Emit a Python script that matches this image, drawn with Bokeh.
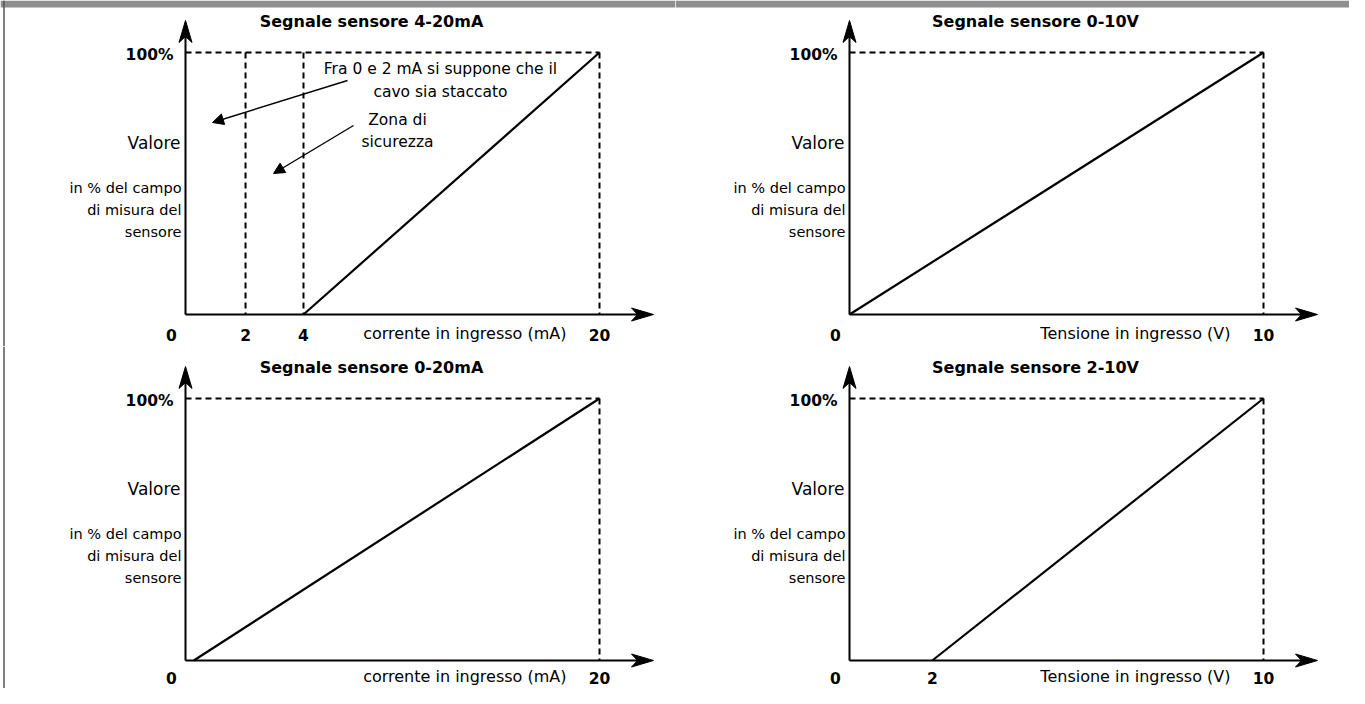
import numpy as np
from bokeh.plotting import figure
from bokeh.layouts import column, row
from bokeh.models import Range1d, Span, BoxAnnotation, Arrow, NormalHead
from bokeh.core.properties import value
from bokeh.embed import file_html
from bokeh.resources import INLINE

FONT = "DejaVu Sans"

# ---------------- data ----------------
TITLES = ["Segnale sensore 4-20mA", "Segnale sensore 0-10V",
          "Segnale sensore 0-20mA", "Segnale sensore 2-10V"]
XLABELS = ["corrente in ingresso (mA)", "Tensione in ingresso (V)",
           "corrente in ingresso (mA)", "Tensione in ingresso (V)"]
FULL_SCALE = [20, 10, 20, 10]
TICKS_TL = [0, 2, 4, 20]
TICKS_TR = [0, 10]
TICKS_BL = [0, 20]
TICKS_BR = [0, 2, 10]
LINE_TL_X = [4, 20]
LINE_TL_Y = [0, 100]
LINE_TR_X = [0, 10]
LINE_TR_Y = [0, 100]
LINE_BL_X = [0.4, 20]
LINE_BL_Y = [0, 100]
LINE_BR_X = [2, 10]
LINE_BR_Y = [0, 100]
DASH_TL = [2, 4]
Y_TOP_LABEL = "100%"
Y_MAIN_LABEL = "Valore"
Y_SUB_LABELS = ["in % del campo", "di misura del", "sensore"]
NOTE_CABLE = ["Fra 0 e 2 mA si suppone che il", "cavo sia staccato"]
NOTE_SAFE = ["Zona di", "sicurezza"]

# ---------------- layout constants ----------------
SY = 2.62          # px per %
OY = 314           # px from top of panel to 0 %
W_L, W_R = 675, 674
H_T, H_B = 346, 342


def txt(p, x, y, s, size, bold=False, align="center", xo=0, yo=0, color="black"):
    p.text(x=[x], y=[y], text=[s], text_font=value(FONT),
           text_font_size=value(size), text_font_style="bold" if bold else "normal",
           text_align=align, text_baseline="middle", text_color=color,
           x_offset=xo, y_offset=yo)


def make_panel(W, H, sx, ox, oy, full, ticks, line_x, line_y, title, xlabel,
               warp=None, extra_dash=(), top=True, left=True, tick_yo=20):
    if warp is None:
        warp = lambda v: np.asarray(v, dtype=float)
    x0, x1 = -ox / sx, (W - ox) / sx
    y1, y0 = oy / SY, -(H - oy) / SY
    p = figure(width=W, height=H, x_range=Range1d(x0, x1), y_range=Range1d(y0, y1),
               output_backend="svg", toolbar_location=None, title=None,
               x_axis_type=None, y_axis_type=None, min_border=0)
    p.grid.visible = False
    p.outline_line_color = None
    p.background_fill_color = "white"
    p.border_fill_color = "white"

    # page frame pieces
    if top:
        p.add_layout(BoxAnnotation(bottom=y1 - 7 / SY, top=y1, fill_color="#8e8e8e",
                                   fill_alpha=1.0, line_color=None))
    if left:
        p.add_layout(Span(location=x0 + 3.5 / sx, dimension="height",
                          line_color="#555555", line_width=1.5))

    fx = float(warp(full))
    # dashed guides
    p.line([0, fx], [100, 100], line_color="black", line_width=2, line_dash="6 4")
    p.line([fx, fx], [100, 0], line_color="black", line_width=2, line_dash="6 4")
    for d in extra_dash:
        wd = float(warp(d))
        p.line([wd, wd], [100, 0], line_color="black", line_width=2, line_dash="6 4")

    # axes with arrow heads
    hl, hn, hw = 22, 16, 6.5
    ytip = 100 + 32 / SY
    xtip = fx + 54 / sx
    p.line([0, 0], [0, ytip - hn / SY], line_color="black", line_width=2)
    p.line([0, xtip - hn / sx], [0, 0], line_color="black", line_width=2)
    p.patch([0, -hw / sx, 0, hw / sx], [ytip, ytip - hl / SY, ytip - hn / SY, ytip - hl / SY],
            fill_color="black", line_color="black", line_width=1)
    p.patch([xtip, xtip - hl / sx, xtip - hn / sx, xtip - hl / sx], [0, hw / SY, 0, -hw / SY],
            fill_color="black", line_color="black", line_width=1)

    # characteristic line
    p.line(warp(line_x), line_y, line_color="black", line_width=2.2)

    # tick labels
    for t in ticks:
        xo = -14 if t == 0 else 0
        txt(p, float(warp(t)), 0, str(t), "15.5px", bold=True, xo=xo, yo=tick_yo)
    txt(p, fx, 0, xlabel, "16px", align="right", xo=-33, yo=tick_yo - 1)

    # y labels
    txt(p, 0, 100, Y_TOP_LABEL, "15.5px", bold=True, align="right", xo=-12, yo=2)
    txt(p, 0, 100, Y_MAIN_LABEL, "17px", align="right", xo=-5, yo=90)
    for i, s in enumerate(Y_SUB_LABELS):
        txt(p, 0, 100, s, "14.5px", align="right", xo=-4, yo=135 + 22 * i)

    # title
    txt(p, 186 / sx, 100, title, "16px", bold=True, yo=-31)
    return p


warp_tl = lambda v: np.interp(v, [0, 2, 4, 20], [0, 2.90, 5.70, 20])

SX_L, SX_R = 20.7, 41.4
OX_L, OX_R = 185, 849 - W_L
OY_B = 314

p_tl = make_panel(W_L, H_T, SX_L, OX_L, OY, FULL_SCALE[0], TICKS_TL, LINE_TL_X, LINE_TL_Y,
                  TITLES[0], XLABELS[0], warp=warp_tl, extra_dash=DASH_TL, top=True, left=True)
p_tr = make_panel(W_R, H_T, SX_R, OX_R, OY, FULL_SCALE[1], TICKS_TR, LINE_TR_X, LINE_TR_Y,
                  TITLES[1], XLABELS[1], top=True, left=False)
p_bl = make_panel(W_L, H_B, SX_L, OX_L, OY_B, FULL_SCALE[2], TICKS_BL, LINE_BL_X, LINE_BL_Y,
                  TITLES[2], XLABELS[2], top=False, left=True, tick_yo=17)
p_br = make_panel(W_R, H_B, SX_R, OX_R, OY_B, FULL_SCALE[3], TICKS_BR, LINE_BR_X, LINE_BR_Y,
                  TITLES[3], XLABELS[3], top=False, left=False, tick_yo=17)

# annotations in the 4-20mA panel
def to_x(px):
    return (px - OX_L) / SX_L

def to_y(py):
    return 100 - (py - 52) / SY

txt(p_tl, to_x(440), 100, NOTE_CABLE[0], "15.5px", yo=16)
txt(p_tl, to_x(440), 100, NOTE_CABLE[1], "15.5px", yo=39)
txt(p_tl, to_x(397), 100, NOTE_SAFE[0], "15.5px", yo=67)
txt(p_tl, to_x(397), 100, NOTE_SAFE[1], "15.5px", yo=89)
for (xa, ya, xb, yb) in [(347, 80, 212, 122), (353, 125, 273, 173)]:
    p_tl.add_layout(Arrow(end=NormalHead(size=11, fill_color="black", line_color="black", line_width=1),
                          x_start=to_x(xa), y_start=to_y(ya), x_end=to_x(xb), y_end=to_y(yb),
                          line_color="black", line_width=1.4))

layout = column(row(p_tl, p_tr), row(p_bl, p_br))
open("out.html", "w").write(file_html(layout, INLINE))
